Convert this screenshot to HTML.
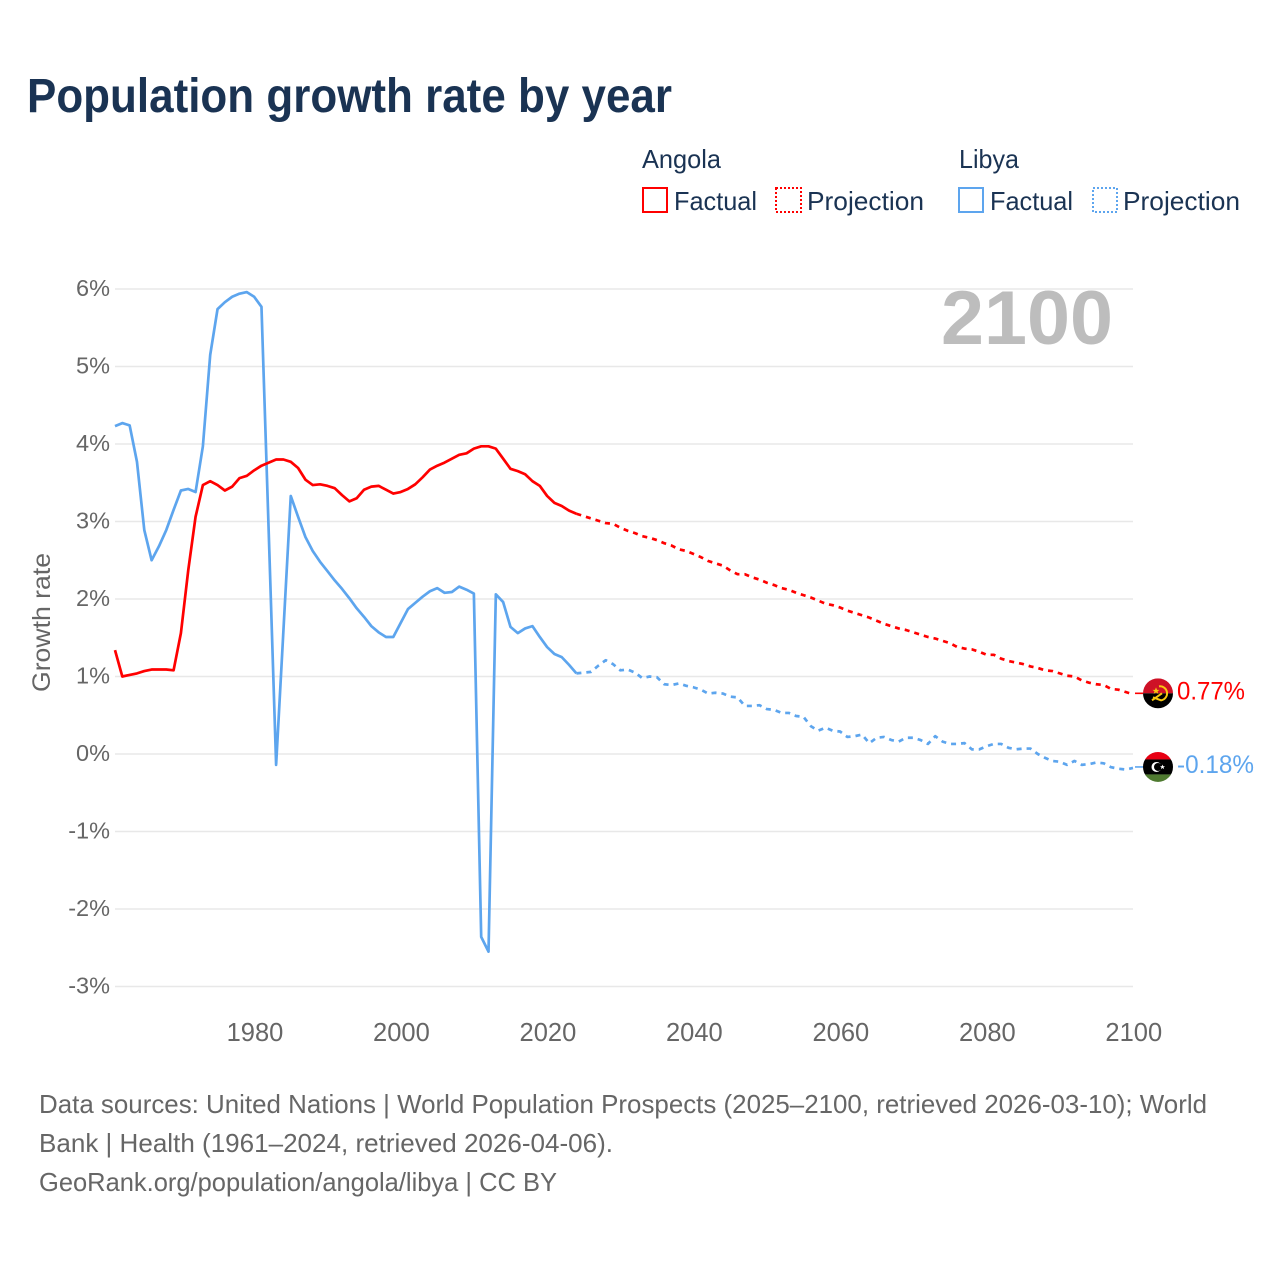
<!DOCTYPE html>
<html lang="en">
<head>
<meta charset="utf-8">
<title>Population growth rate by year</title>
<style>
html,body{margin:0;padding:0;background:#fff;}
svg{display:block;font-family:"Liberation Sans",sans-serif;}
</style>
</head>
<body>
<svg id="chart" xmlns="http://www.w3.org/2000/svg" width="1280" height="1280" viewBox="0 0 1280 1280">
  <rect width="1280" height="1280" fill="#ffffff"/>
  <text x="27" y="112" font-size="48" font-weight="700" fill="#1a3353" textLength="645" lengthAdjust="spacingAndGlyphs">Population growth rate by year</text>

  <g font-size="26" fill="#1a3353">
    <text x="642" y="168" textLength="79" lengthAdjust="spacingAndGlyphs">Angola</text>
    <text x="959" y="168" textLength="60" lengthAdjust="spacingAndGlyphs">Libya</text>
    <g>
      <rect x="643" y="188" width="24" height="24" fill="none" stroke="#ff0000" stroke-width="2"/>
      <text x="674" y="210" textLength="83" lengthAdjust="spacingAndGlyphs">Factual</text>
    </g>
    <g>
      <rect x="776" y="188" width="25" height="24" fill="none" stroke="#ff0000" stroke-width="2" stroke-dasharray="2 2"/>
      <text x="807" y="210" textLength="117" lengthAdjust="spacingAndGlyphs">Projection</text>
    </g>
    <g>
      <rect x="959" y="188" width="24" height="24" fill="none" stroke="#5da5ee" stroke-width="2"/>
      <text x="990" y="210" textLength="83" lengthAdjust="spacingAndGlyphs">Factual</text>
    </g>
    <g>
      <rect x="1093" y="188" width="24" height="24" fill="none" stroke="#5da5ee" stroke-width="2" stroke-dasharray="2 2"/>
      <text x="1123" y="210" textLength="117" lengthAdjust="spacingAndGlyphs">Projection</text>
    </g>
  </g>

  <g id="grid"></g>
  <g id="yLabels"></g>
  <g id="xLabels"></g>
  <text transform="translate(50,622.5) rotate(-90)" text-anchor="middle" font-size="25" fill="#666666" textLength="139" lengthAdjust="spacingAndGlyphs">Growth rate</text>
  <text x="941" y="344" font-size="76" font-weight="700" fill="#bdbdbd" textLength="172" lengthAdjust="spacingAndGlyphs">2100</text>

  <g id="series"></g>

  <defs>
    <clipPath id="flagClipA"><circle cx="0" cy="0" r="15"/></clipPath>
    <clipPath id="flagClipL"><circle cx="0" cy="0" r="15"/></clipPath>
  </defs>
  <g id="flagAngola" clip-path="url(#flagClipA)">
    <rect x="-15" y="-15" width="30" height="15" fill="#ce1126"/>
    <rect x="-15" y="0" width="30" height="15" fill="#000000"/>
    <path d="M1 -7 A7 7 0 0 1 3 7 L-5 4" fill="none" stroke="#f9c80e" stroke-width="2"/>
    <path d="M-6 7 L4 0" fill="none" stroke="#f9c80e" stroke-width="2"/>
    <polygon points="-2,-6 -1,-3.5 1.5,-3.5 -0.5,-2 0.3,0.5 -2,-1 -4.3,0.5 -3.5,-2 -5.5,-3.5 -3,-3.5" fill="#f9c80e"/>
  </g>
  <g id="flagLibya" clip-path="url(#flagClipL)">
    <rect x="-15" y="-15" width="30" height="7.5" fill="#e70013"/>
    <rect x="-15" y="-7.5" width="30" height="15" fill="#000000"/>
    <rect x="-15" y="7.5" width="30" height="7.5" fill="#4f7a30"/>
    <circle cx="-1.5" cy="0" r="5" fill="#ffffff"/>
    <circle cx="0" cy="0" r="4" fill="#000000"/>
    <polygon points="4.5,-2.5 5.2,-0.7 7,-0.7 5.6,0.4 6.1,2.2 4.5,1.1 2.9,2.2 3.4,0.4 2,-0.7 3.8,-0.7" fill="#ffffff"/>
  </g>
  <g id="endLabels"></g>

  <g font-size="26" fill="#666666">
    <text x="39" y="1113" textLength="1168" lengthAdjust="spacingAndGlyphs">Data sources: United Nations | World Population Prospects (2025–2100, retrieved 2026-03-10); World</text>
    <text x="39" y="1152" textLength="574" lengthAdjust="spacingAndGlyphs">Bank | Health (1961–2024, retrieved 2026-04-06).</text>
    <text x="39" y="1191" textLength="518" lengthAdjust="spacingAndGlyphs">GeoRank.org/population/angola/libya | CC BY</text>
  </g>
</svg>
<script>
var yTickValues = [6, 5, 4, 3, 2, 1, 0, -1, -2, -3];
var yTickLabels = ["6%", "5%", "4%", "3%", "2%", "1%", "0%", "-1%", "-2%", "-3%"];
var xTickYears = [1980, 2000, 2020, 2040, 2060, 2080, 2100];
var xTickLabels = ["1980", "2000", "2020", "2040", "2060", "2080", "2100"];
var factualStartYear = 1961;
var projectionStartYear = 2024;

var angolaFactual = [
  1.34,1.00,1.02,1.04,1.07,1.09,1.09,1.09,1.08,1.56,
  2.37,3.06,3.47,3.52,3.47,3.40,3.45,3.56,3.59,3.66,
  3.72,3.76,3.80,3.80,3.77,3.69,3.54,3.47,3.48,3.46,
  3.43,3.34,3.26,3.30,3.41,3.45,3.46,3.41,3.36,3.38,
  3.42,3.48,3.57,3.67,3.72,3.76,3.81,3.86,3.88,3.94,
  3.97,3.97,3.94,3.81,3.68,3.65,3.61,3.52,3.46,3.33,
  3.24,3.20,3.14,3.10];
var angolaProjection = [
  3.10,3.07,3.04,3.01,2.98,2.97,
  2.92,2.88,2.85,2.81,2.79,2.76,2.72,2.69,2.64,2.62,
  2.58,2.54,2.49,2.46,2.43,2.37,2.32,2.32,2.28,2.25,
  2.21,2.18,2.14,2.12,2.08,2.05,2.02,1.98,1.94,1.92,
  1.89,1.85,1.82,1.79,1.76,1.72,1.68,1.65,1.62,1.60,
  1.57,1.54,1.51,1.49,1.46,1.43,1.38,1.36,1.35,1.32,
  1.28,1.28,1.23,1.20,1.18,1.16,1.13,1.11,1.08,1.07,
  1.04,1.01,1.00,0.95,0.92,0.90,0.89,0.84,0.83,0.80,
  0.77];
var libyaFactual = [
  4.23,4.27,4.24,3.77,2.89,2.50,2.68,2.89,3.15,3.40,
  3.42,3.38,3.97,5.15,5.74,5.83,5.90,5.94,5.96,5.90,
  5.77,2.83,-0.14,1.60,3.33,3.06,2.80,2.62,2.48,2.36,
  2.24,2.13,2.01,1.88,1.77,1.65,1.57,1.51,1.51,1.69,
  1.87,1.95,2.03,2.10,2.14,2.08,2.09,2.16,2.12,2.07,
  -2.36,-2.55,2.06,1.96,1.64,1.56,1.62,1.65,1.51,1.38,
  1.29,1.25,1.15,1.04];
var libyaProjection = [
  1.04,1.05,1.06,1.14,1.21,1.16,
  1.08,1.09,1.05,0.98,1.00,0.99,0.90,0.89,0.91,0.88,
  0.86,0.83,0.78,0.79,0.78,0.74,0.73,0.62,0.62,0.63,
  0.58,0.57,0.53,0.53,0.49,0.48,0.36,0.30,0.34,0.30,
  0.29,0.22,0.23,0.25,0.14,0.21,0.22,0.18,0.16,0.21,
  0.21,0.18,0.13,0.23,0.16,0.13,0.13,0.14,0.06,0.06,
  0.10,0.13,0.13,0.08,0.06,0.07,0.07,0.00,-0.05,-0.09,
  -0.10,-0.14,-0.09,-0.14,-0.13,-0.11,-0.12,-0.17,-0.19,-0.20,
  -0.18];

var NS = "http://www.w3.org/2000/svg";
var RED = "#ff0000";
var BLUE = "#5da5ee";

function xScale(year) { return 115 + (year - 1961) * (1133 - 115) / (2100 - 1961); }
function yScale(value) { return 754 - value * 77.5; }

function pathFor(values, startYear) {
  return values.map(function (v, i) {
    return (i ? "L" : "M") + xScale(startYear + i).toFixed(2) + " " + yScale(v).toFixed(2);
  }).join(" ");
}

function drawSeries(values, startYear, color, dashed, name) {
  var el = document.createElementNS(NS, "path");
  el.setAttribute("d", pathFor(values, startYear));
  el.setAttribute("fill", "none");
  el.setAttribute("stroke", color);
  el.setAttribute("stroke-width", "2.7");
  el.setAttribute("stroke-linejoin", "round");
  if (dashed) el.setAttribute("stroke-dasharray", "5 5");
  
  
  document.getElementById("series").appendChild(el);
}

function drawConnector(value, color, name) {
  var el = document.createElementNS(NS, "line");
  el.setAttribute("x1", xScale(2100) + 2);
  el.setAttribute("x2", 1143);
  el.setAttribute("y1", yScale(value) - 1);
  el.setAttribute("y2", yScale(value) - 1);
  el.setAttribute("stroke", color);
  el.setAttribute("stroke-width", "1.6");
  
  
  document.getElementById("series").appendChild(el);
}

function drawEndLabel(value, color, name) {
  var el = document.createElementNS(NS, "text");
  el.setAttribute("x", 1177);
  el.setAttribute("y", yScale(value) + 5);
  el.setAttribute("font-size", "25");
  el.setAttribute("fill", color);
  el.textContent = value.toFixed(2) + "%";
  el.setAttribute("textLength", value < 0 ? "77" : "68");
  el.setAttribute("lengthAdjust", "spacingAndGlyphs");
  
  
  document.getElementById("endLabels").appendChild(el);
}

yTickValues.forEach(function (v, i) {
  var line = document.createElementNS(NS, "line");
  line.setAttribute("x1", 115);
  line.setAttribute("x2", 1133);
  line.setAttribute("y1", yScale(v));
  line.setAttribute("y2", yScale(v));
  line.setAttribute("stroke", "#e8e8e8");
  line.setAttribute("stroke-width", "1.6");
  
  
  document.getElementById("grid").appendChild(line);

  var label = document.createElementNS(NS, "text");
  label.setAttribute("x", 110);
  label.setAttribute("y", yScale(v) + 7);
  label.setAttribute("text-anchor", "end");
  label.setAttribute("font-size", "23.5");
  label.setAttribute("fill", "#666666");
  label.textContent = yTickLabels[i];
  
  
  document.getElementById("yLabels").appendChild(label);
});

xTickYears.forEach(function (year, i) {
  var label = document.createElementNS(NS, "text");
  label.setAttribute("x", xScale(year) + 0.8);
  label.setAttribute("y", 1041);
  label.setAttribute("text-anchor", "middle");
  label.setAttribute("font-size", "25.5");
  label.setAttribute("fill", "#666666");
  label.textContent = xTickLabels[i];
  
  
  document.getElementById("xLabels").appendChild(label);
});

drawSeries(libyaFactual, factualStartYear, BLUE, false, "libya-factual-line");
drawSeries(libyaProjection, projectionStartYear, BLUE, true, "libya-projection-line");
drawSeries(angolaFactual, factualStartYear, RED, false, "angola-factual-line");
drawSeries(angolaProjection, projectionStartYear, RED, true, "angola-projection-line");

var angolaLast = angolaProjection[angolaProjection.length - 1];
var libyaLast = libyaProjection[libyaProjection.length - 1];
drawConnector(libyaLast, BLUE, "libya-end-connector");
drawConnector(angolaLast, RED, "angola-end-connector");
document.getElementById("flagAngola").setAttribute("transform", "translate(1158," + (yScale(angolaLast) - 1) + ")");
document.getElementById("flagLibya").setAttribute("transform", "translate(1158," + (yScale(libyaLast) - 1) + ")");
drawEndLabel(angolaLast, RED, "angola-end-label");
drawEndLabel(libyaLast, BLUE, "libya-end-label");
</script>
</body>
</html>
